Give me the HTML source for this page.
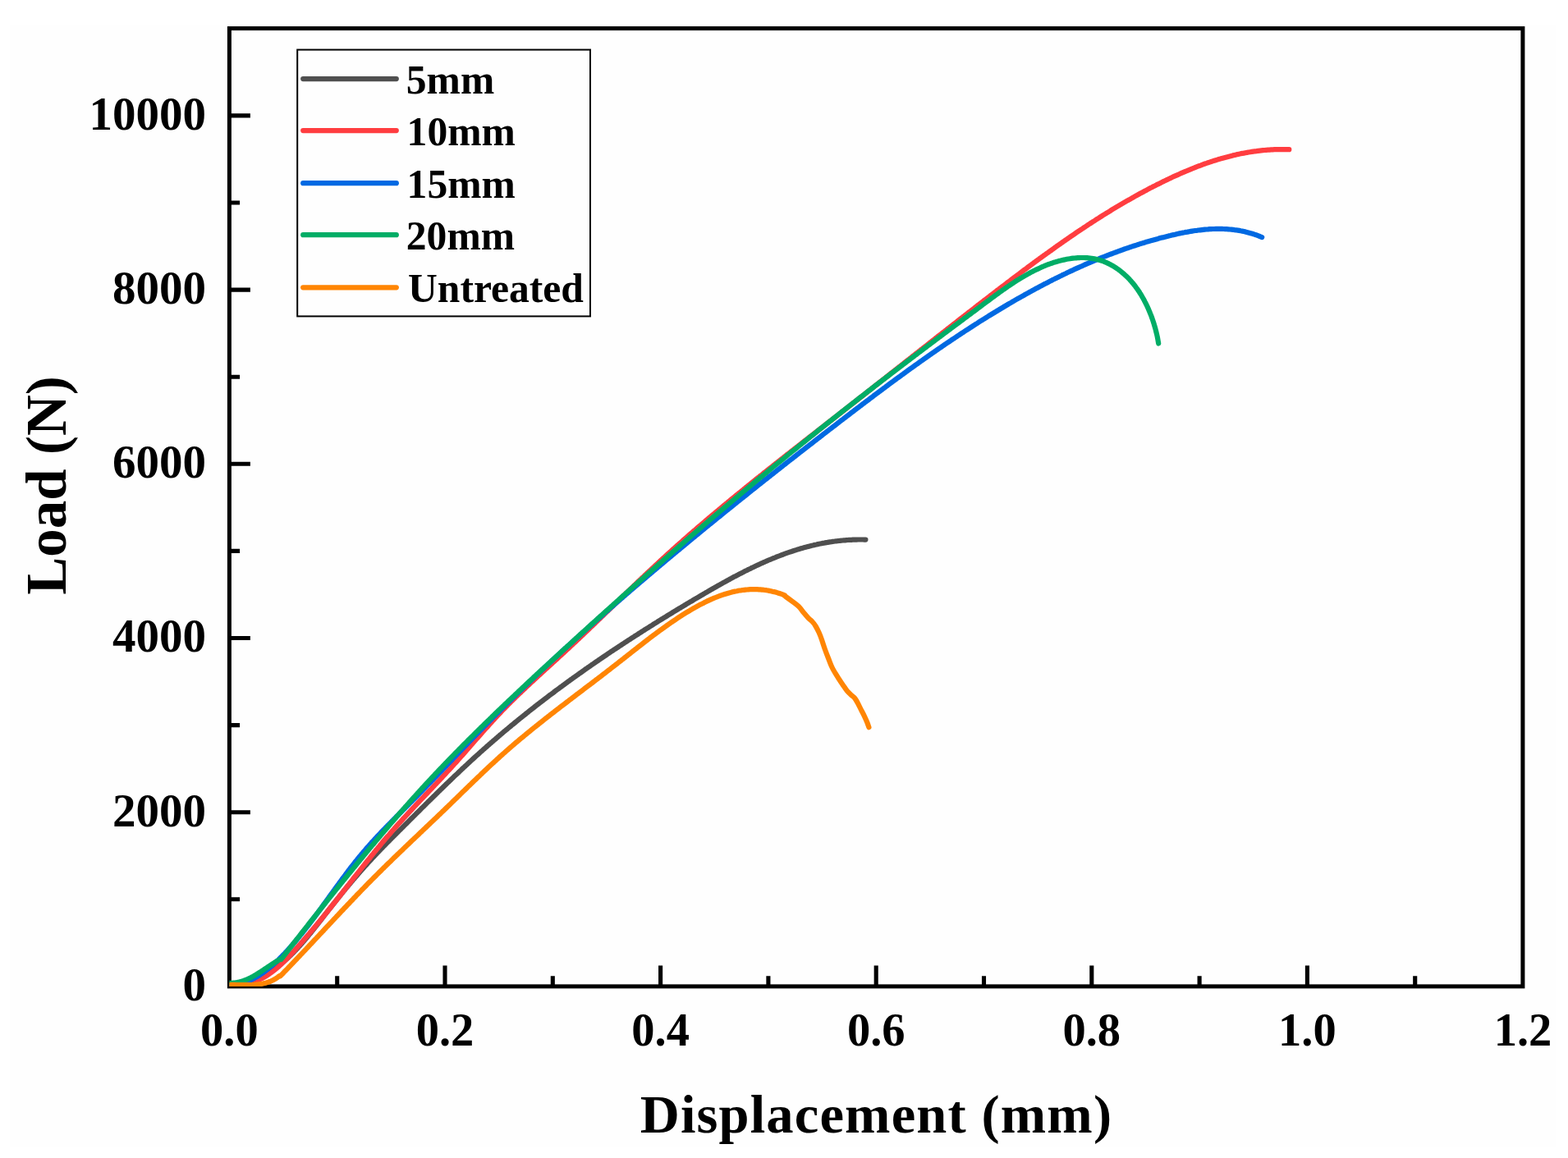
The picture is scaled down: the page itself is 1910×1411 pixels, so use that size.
<!DOCTYPE html>
<html><head><meta charset="utf-8"><title>Load vs Displacement</title>
<style>
html,body{margin:0;padding:0;background:#ffffff;}
body{width:1910px;height:1411px;overflow:hidden;}
svg{display:block;}
text{font-family:"Liberation Serif","Times New Roman",serif;font-weight:bold;fill:#000;}
</style></head><body>
<svg width="1910" height="1411" viewBox="0 0 1910 1411">
<rect x="0" y="0" width="1910" height="1411" fill="#ffffff"/>
<rect x="12" y="30" width="1883" height="1368" fill="#fefefe"/>
<defs><clipPath id="plotclip"><rect x="279.4" y="34.6" width="1575.5" height="1167.3"/></clipPath></defs>

<rect x="279.4" y="34.6" width="1575.5" height="1167.3" fill="none" stroke="#000" stroke-width="5"/>
<g clip-path="url(#plotclip)" fill="none" stroke-width="6.2" stroke-linecap="round" stroke-linejoin="round">
<path d="M279.0,1201.8 L280.7,1201.7 L282.3,1201.5 L283.9,1201.3 L285.5,1201.0 L287.1,1200.7 L288.7,1200.5 L290.3,1200.2 L291.8,1199.8 L293.3,1199.5 L294.9,1199.1 L296.4,1198.7 L297.9,1198.3 L299.4,1197.9 L300.8,1197.4 L302.3,1197.0 L303.8,1196.5 L305.2,1196.0 L306.6,1195.5 L308.1,1194.9 L309.5,1194.4 L310.9,1193.8 L312.2,1193.2 L313.6,1192.6 L315.0,1192.0 L316.3,1191.3 L317.7,1190.7 L319.0,1190.0 L320.3,1189.3 L321.6,1188.6 L322.9,1187.8 L324.2,1187.1 L325.5,1186.3 L326.8,1185.6 L328.0,1184.8 L329.3,1184.0 L330.5,1183.2 L331.7,1182.3 L333.0,1181.5 L334.2,1180.7 L335.4,1179.8 L336.6,1178.9 L337.8,1178.0 L339.0,1177.1 L340.1,1176.2 L341.3,1175.2 L342.5,1174.3 L343.6,1173.3 L344.8,1172.4 L345.9,1171.4 L347.0,1170.4 L348.1,1169.4 L349.3,1168.4 L350.4,1167.4 L351.5,1166.4 L352.6,1165.3 L353.7,1164.3 L354.7,1163.2 L355.8,1162.1 L356.9,1161.1 L358.0,1160.0 L359.0,1158.9 L360.1,1157.8 L361.1,1156.7 L362.2,1155.6 L363.2,1154.5 L364.2,1153.3 L365.3,1152.2 L366.3,1151.0 L367.3,1149.9 L368.3,1148.7 L369.3,1147.6 L370.3,1146.4 L371.3,1145.2 L372.3,1144.1 L373.3,1142.9 L374.3,1141.7 L375.3,1140.5 L376.3,1139.3 L377.3,1138.1 L378.3,1136.9 L379.3,1135.7 L380.2,1134.5 L381.2,1133.3 L382.2,1132.1 L383.1,1130.9 L384.1,1129.6 L385.1,1128.4 L386.0,1127.2 L387.0,1126.0 L387.9,1124.8 L388.9,1123.5 L389.9,1122.3 L390.8,1121.1 L391.8,1119.9 L392.7,1118.6 L393.7,1117.4 L394.6,1116.2 L395.6,1114.9 L396.5,1113.7 L397.5,1112.5 L398.4,1111.3 L399.4,1110.1 L400.3,1108.8 L401.3,1107.6 L402.2,1106.4 L403.2,1105.2 L404.2,1104.0 L405.1,1102.8 L406.1,1101.6 L407.0,1100.4 L408.0,1099.2 L408.9,1098.0 L409.9,1096.8 L410.8,1095.6 L411.8,1094.4 L412.8,1093.2 L413.7,1092.0 L414.7,1090.8 L415.6,1089.6 L416.6,1088.4 L417.6,1087.2 L418.5,1086.0 L419.5,1084.9 L420.5,1083.7 L421.4,1082.5 L422.4,1081.3 L423.4,1080.2 L424.4,1079.0 L425.3,1077.8 L426.3,1076.7 L427.3,1075.5 L428.3,1074.3 L429.2,1073.2 L430.2,1072.0 L431.2,1070.9 L432.2,1069.7 L433.2,1068.6 L434.2,1067.4 L435.2,1066.3 L436.2,1065.1 L437.1,1064.0 L438.1,1062.8 L439.1,1061.7 L440.1,1060.6 L441.1,1059.4 L442.1,1058.3 L443.1,1057.2 L444.1,1056.0 L445.2,1054.9 L446.2,1053.8 L447.2,1052.7 L448.2,1051.5 L449.2,1050.4 L450.2,1049.3 L451.3,1048.2 L452.3,1047.1 L453.3,1046.0 L454.3,1044.9 L455.4,1043.8 L456.4,1042.7 L457.4,1041.6 L458.5,1040.5 L459.5,1039.4 L460.6,1038.3 L461.6,1037.2 L462.7,1036.1 L463.7,1035.0 L464.8,1033.9 L465.8,1032.8 L466.9,1031.7 L467.9,1030.6 L469.0,1029.6 L470.1,1028.5 L471.1,1027.4 L472.2,1026.3 L473.3,1025.2 L474.3,1024.2 L475.4,1023.1 L476.5,1022.0 L477.5,1020.9 L478.6,1019.9 L479.7,1018.8 L480.8,1017.7 L481.8,1016.6 L482.9,1015.6 L484.0,1014.5 L485.1,1013.4 L486.1,1012.3 L487.2,1011.3 L488.3,1010.2 L489.4,1009.1 L490.5,1008.0 L491.5,1007.0 L492.6,1005.9 L493.7,1004.8 L494.8,1003.7 L495.8,1002.7 L496.9,1001.6 L498.0,1000.5 L499.1,999.4 L500.2,998.3 L501.2,997.3 L502.3,996.2 L503.4,995.1 L504.5,994.0 L505.6,993.0 L506.6,991.9 L507.7,990.8 L508.8,989.7 L509.9,988.6 L511.0,987.6 L512.1,986.5 L513.1,985.4 L514.2,984.3 L515.3,983.3 L516.4,982.2 L517.5,981.1 L518.6,980.0 L519.7,978.9 L520.7,977.9 L521.8,976.8 L522.9,975.7 L524.0,974.6 L525.1,973.6 L526.2,972.5 L527.3,971.4 L528.4,970.4 L529.5,969.3 L530.6,968.2 L531.6,967.1 L532.7,966.1 L533.8,965.0 L534.9,963.9 L536.0,962.9 L537.1,961.8 L538.2,960.7 L539.3,959.6 L540.4,958.6 L541.5,957.5 L542.6,956.4 L543.7,955.4 L544.8,954.3 L545.9,953.3 L547.0,952.2 L548.1,951.1 L549.2,950.1 L550.3,949.0 L551.4,948.0 L552.5,946.9 L553.6,945.8 L554.7,944.8 L555.9,943.7 L557.0,942.7 L558.1,941.6 L559.2,940.6 L560.3,939.5 L561.4,938.5 L562.5,937.4 L563.6,936.4 L564.8,935.3 L565.9,934.3 L567.0,933.2 L568.1,932.2 L569.2,931.2 L570.3,930.1 L571.5,929.1 L572.6,928.0 L573.7,927.0 L574.8,926.0 L576.0,924.9 L577.1,923.9 L578.2,922.9 L579.4,921.8 L580.5,920.8 L581.6,919.8 L582.8,918.8 L583.9,917.7 L585.0,916.7 L586.2,915.7 L587.3,914.7 L588.4,913.7 L589.6,912.7 L590.7,911.6 L591.9,910.6 L593.0,909.6 L594.1,908.6 L595.3,907.6 L596.4,906.6 L597.6,905.6 L598.7,904.6 L599.9,903.6 L601.0,902.6 L602.2,901.6 L603.4,900.6 L604.5,899.6 L605.7,898.6 L606.8,897.6 L608.0,896.6 L609.1,895.6 L610.3,894.7 L611.5,893.7 L612.6,892.7 L613.8,891.7 L615.0,890.7 L616.1,889.7 L617.3,888.8 L618.5,887.8 L619.6,886.8 L620.8,885.8 L622.0,884.9 L623.1,883.9 L624.3,882.9 L625.5,882.0 L626.7,881.0 L627.9,880.0 L629.0,879.1 L630.2,878.1 L631.4,877.1 L632.6,876.2 L633.8,875.2 L634.9,874.3 L636.1,873.3 L637.3,872.4 L638.5,871.4 L639.7,870.5 L640.9,869.5 L642.1,868.6 L643.3,867.6 L644.4,866.7 L645.6,865.7 L646.8,864.8 L648.0,863.8 L649.2,862.9 L650.4,862.0 L651.6,861.0 L652.8,860.1 L654.0,859.1 L655.2,858.2 L656.4,857.3 L657.6,856.3 L658.8,855.4 L660.0,854.5 L661.3,853.6 L662.5,852.6 L663.7,851.7 L664.9,850.8 L666.1,849.9 L667.3,848.9 L668.5,848.0 L669.7,847.1 L670.9,846.2 L672.2,845.3 L673.4,844.4 L674.6,843.5 L675.8,842.5 L677.0,841.6 L678.2,840.7 L679.5,839.8 L680.7,838.9 L681.9,838.0 L683.1,837.1 L684.4,836.2 L685.6,835.3 L686.8,834.4 L688.0,833.5 L689.3,832.6 L690.5,831.7 L691.7,830.8 L693.0,829.9 L694.2,829.0 L695.4,828.1 L696.7,827.2 L697.9,826.3 L699.1,825.4 L700.4,824.6 L701.6,823.7 L702.9,822.8 L704.1,821.9 L705.3,821.0 L706.6,820.1 L707.8,819.3 L709.1,818.4 L710.3,817.5 L711.6,816.6 L712.8,815.7 L714.0,814.9 L715.3,814.0 L716.5,813.1 L717.8,812.3 L719.0,811.4 L720.3,810.5 L721.5,809.6 L722.8,808.8 L724.1,807.9 L725.3,807.0 L726.6,806.2 L727.8,805.3 L729.1,804.5 L730.3,803.6 L731.6,802.7 L732.9,801.9 L734.1,801.0 L735.4,800.2 L736.6,799.3 L737.9,798.5 L739.2,797.6 L740.4,796.7 L741.7,795.9 L743.0,795.0 L744.2,794.2 L745.5,793.3 L746.8,792.5 L748.0,791.7 L749.3,790.8 L750.6,790.0 L751.9,789.1 L753.1,788.3 L754.4,787.4 L755.7,786.6 L756.9,785.8 L758.2,784.9 L759.5,784.1 L760.8,783.2 L762.1,782.4 L763.3,781.6 L764.6,780.7 L765.9,779.9 L767.2,779.1 L768.5,778.2 L769.7,777.4 L771.0,776.6 L772.3,775.8 L773.6,774.9 L774.9,774.1 L776.2,773.3 L777.5,772.5 L778.7,771.6 L780.0,770.8 L781.3,770.0 L782.6,769.2 L783.9,768.3 L785.2,767.5 L786.5,766.7 L787.8,765.9 L789.1,765.1 L790.4,764.3 L791.7,763.4 L793.0,762.6 L794.3,761.8 L795.5,761.0 L796.8,760.2 L798.1,759.4 L799.4,758.6 L800.7,757.8 L802.0,756.9 L803.3,756.1 L804.6,755.3 L805.9,754.5 L807.3,753.7 L808.6,752.9 L809.9,752.1 L811.2,751.3 L812.5,750.5 L813.8,749.7 L815.1,748.9 L816.4,748.1 L817.7,747.3 L819.0,746.5 L820.3,745.7 L821.6,744.9 L822.9,744.1 L824.2,743.3 L825.6,742.5 L826.9,741.7 L828.2,740.9 L829.5,740.2 L830.8,739.4 L832.1,738.6 L833.4,737.8 L834.8,737.0 L836.1,736.2 L837.4,735.4 L838.7,734.6 L840.0,733.8 L841.4,733.1 L842.7,732.3 L844.0,731.5 L845.3,730.7 L846.6,729.9 L848.0,729.1 L849.3,728.4 L850.6,727.6 L851.9,726.8 L853.3,726.0 L854.6,725.2 L855.9,724.5 L857.2,723.7 L858.6,722.9 L859.9,722.1 L861.2,721.4 L862.5,720.6 L863.9,719.8 L865.2,719.0 L866.5,718.3 L867.9,717.5 L869.2,716.7 L870.5,716.0 L871.9,715.2 L873.2,714.5 L874.5,713.7 L875.9,712.9 L877.2,712.2 L878.6,711.4 L879.9,710.7 L881.2,709.9 L882.6,709.2 L883.9,708.5 L885.3,707.7 L886.6,707.0 L888.0,706.3 L889.3,705.5 L890.7,704.8 L892.0,704.1 L893.4,703.3 L894.7,702.6 L896.1,701.9 L897.4,701.2 L898.8,700.5 L900.1,699.8 L901.5,699.1 L902.8,698.4 L904.2,697.7 L905.6,697.0 L906.9,696.3 L908.3,695.6 L909.7,694.9 L911.0,694.2 L912.4,693.6 L913.8,692.9 L915.1,692.2 L916.5,691.6 L917.9,690.9 L919.3,690.2 L920.6,689.6 L922.0,688.9 L923.4,688.3 L924.8,687.7 L926.2,687.0 L927.5,686.4 L928.9,685.8 L930.3,685.2 L931.7,684.6 L933.1,683.9 L934.5,683.3 L935.9,682.7 L937.3,682.2 L938.7,681.6 L940.1,681.0 L941.5,680.4 L942.9,679.8 L944.3,679.3 L945.7,678.7 L947.1,678.1 L948.5,677.6 L949.9,677.1 L951.3,676.5 L952.8,676.0 L954.2,675.5 L955.6,674.9 L957.0,674.4 L958.4,673.9 L959.9,673.4 L961.3,672.9 L962.7,672.4 L964.1,672.0 L965.6,671.5 L967.0,671.0 L968.5,670.6 L969.9,670.1 L971.3,669.6 L972.8,669.2 L974.2,668.8 L975.7,668.3 L977.1,667.9 L978.6,667.5 L980.0,667.1 L981.5,666.7 L983.0,666.3 L984.4,665.9 L985.9,665.6 L987.3,665.2 L988.8,664.8 L990.3,664.5 L991.8,664.1 L993.2,663.8 L994.7,663.5 L996.2,663.1 L997.7,662.8 L999.2,662.5 L1000.7,662.2 L1002.1,661.9 L1003.6,661.7 L1005.1,661.4 L1006.6,661.1 L1008.1,660.9 L1009.6,660.6 L1011.1,660.4 L1012.6,660.2 L1014.2,659.9 L1015.7,659.7 L1017.2,659.5 L1018.7,659.3 L1020.2,659.2 L1021.8,659.0 L1023.3,658.8 L1024.8,658.7 L1026.3,658.5 L1027.9,658.4 L1029.4,658.3 L1031.0,658.1 L1032.5,658.0 L1034.1,657.9 L1035.6,657.9 L1037.2,657.8 L1038.7,657.7 L1040.3,657.7 L1041.8,657.6 L1043.4,657.6 L1045.0,657.5 L1046.5,657.5 L1048.1,657.5 L1049.7,657.5 L1051.3,657.5 L1052.8,657.6 L1054.4,657.6" stroke="#4f4f4f"/>
<path d="M279.0,1201.5 L281.1,1201.6 L283.2,1201.6 L285.2,1201.5 L287.3,1201.4 L289.3,1201.2 L291.3,1201.0 L293.3,1200.7 L295.3,1200.4 L297.3,1200.0 L299.2,1199.6 L301.1,1199.1 L303.1,1198.6 L304.9,1198.0 L306.8,1197.4 L308.7,1196.7 L310.5,1196.0 L312.3,1195.3 L314.1,1194.5 L315.9,1193.7 L317.6,1192.8 L319.4,1191.9 L321.1,1191.0 L322.8,1190.0 L324.4,1189.0 L326.1,1188.0 L327.7,1186.9 L329.3,1185.8 L330.9,1184.7 L332.4,1183.5 L334.0,1182.3 L335.5,1181.1 L337.0,1179.9 L338.4,1178.6 L339.9,1177.3 L341.4,1176.0 L342.8,1174.7 L344.2,1173.3 L345.6,1172.0 L347.0,1170.6 L348.4,1169.2 L349.8,1167.8 L351.1,1166.4 L352.5,1164.9 L353.9,1163.5 L355.2,1162.0 L356.5,1160.6 L357.9,1159.1 L359.2,1157.7 L360.5,1156.2 L361.8,1154.7 L363.1,1153.3 L364.4,1151.8 L365.8,1150.3 L367.1,1148.8 L368.3,1147.4 L369.6,1145.9 L370.9,1144.4 L372.2,1142.9 L373.5,1141.4 L374.8,1139.9 L376.1,1138.4 L377.3,1136.9 L378.6,1135.4 L379.9,1133.9 L381.1,1132.4 L382.4,1130.9 L383.7,1129.4 L384.9,1127.8 L386.2,1126.3 L387.4,1124.8 L388.7,1123.3 L389.9,1121.7 L391.1,1120.2 L392.4,1118.7 L393.6,1117.2 L394.9,1115.6 L396.1,1114.1 L397.3,1112.6 L398.6,1111.0 L399.8,1109.5 L401.0,1108.0 L402.2,1106.4 L403.5,1104.9 L404.7,1103.3 L405.9,1101.8 L407.1,1100.2 L408.4,1098.7 L409.6,1097.2 L410.8,1095.6 L412.0,1094.1 L413.2,1092.5 L414.4,1091.0 L415.7,1089.4 L416.9,1087.9 L418.1,1086.3 L419.3,1084.8 L420.5,1083.2 L421.7,1081.7 L422.9,1080.1 L424.2,1078.6 L425.4,1077.0 L426.6,1075.5 L427.8,1073.9 L429.0,1072.4 L430.2,1070.8 L431.4,1069.3 L432.6,1067.7 L433.9,1066.2 L435.1,1064.6 L436.3,1063.1 L437.5,1061.6 L438.7,1060.0 L440.0,1058.5 L441.2,1056.9 L442.4,1055.4 L443.6,1053.9 L444.8,1052.3 L446.1,1050.8 L447.3,1049.2 L448.5,1047.7 L449.8,1046.2 L451.0,1044.7 L452.2,1043.1 L453.5,1041.6 L454.7,1040.1 L455.9,1038.5 L457.2,1037.0 L458.4,1035.5 L459.7,1034.0 L460.9,1032.5 L462.2,1031.0 L463.4,1029.5 L464.7,1027.9 L465.9,1026.4 L467.2,1024.9 L468.5,1023.4 L469.7,1021.9 L471.0,1020.4 L472.3,1018.9 L473.6,1017.5 L474.9,1016.0 L476.1,1014.5 L477.4,1013.0 L478.7,1011.5 L480.0,1010.1 L481.3,1008.6 L482.6,1007.1 L483.9,1005.6 L485.2,1004.2 L486.6,1002.7 L487.9,1001.3 L489.2,999.8 L490.5,998.4 L491.8,996.9 L493.2,995.5 L494.5,994.0 L495.8,992.6 L497.2,991.1 L498.5,989.7 L499.8,988.2 L501.2,986.8 L502.5,985.4 L503.9,983.9 L505.2,982.5 L506.5,981.1 L507.9,979.6 L509.2,978.2 L510.6,976.8 L511.9,975.3 L513.3,973.9 L514.6,972.5 L516.0,971.1 L517.4,969.6 L518.7,968.2 L520.1,966.8 L521.4,965.4 L522.8,963.9 L524.1,962.5 L525.5,961.1 L526.8,959.6 L528.2,958.2 L529.5,956.8 L530.9,955.4 L532.2,953.9 L533.6,952.5 L534.9,951.1 L536.3,949.6 L537.6,948.2 L539.0,946.8 L540.3,945.3 L541.7,943.9 L543.0,942.4 L544.3,941.0 L545.7,939.5 L547.0,938.1 L548.3,936.6 L549.7,935.2 L551.0,933.7 L552.3,932.3 L553.6,930.8 L555.0,929.4 L556.3,927.9 L557.6,926.4 L558.9,925.0 L560.2,923.5 L561.5,922.0 L562.8,920.6 L564.1,919.1 L565.4,917.6 L566.7,916.1 L568.0,914.6 L569.3,913.2 L570.6,911.7 L571.9,910.2 L573.2,908.7 L574.5,907.2 L575.8,905.8 L577.1,904.3 L578.4,902.8 L579.7,901.3 L581.0,899.8 L582.3,898.4 L583.6,896.9 L584.9,895.4 L586.2,893.9 L587.5,892.4 L588.8,891.0 L590.1,889.5 L591.4,888.0 L592.8,886.6 L594.1,885.1 L595.4,883.6 L596.7,882.2 L598.0,880.7 L599.4,879.3 L600.7,877.8 L602.0,876.4 L603.3,874.9 L604.7,873.5 L606.0,872.0 L607.4,870.6 L608.7,869.2 L610.1,867.8 L611.4,866.3 L612.8,864.9 L614.2,863.5 L615.6,862.1 L616.9,860.7 L618.3,859.3 L619.7,857.9 L621.1,856.5 L622.5,855.1 L623.9,853.8 L625.3,852.4 L626.7,851.0 L628.1,849.6 L629.5,848.3 L630.9,846.9 L632.3,845.5 L633.8,844.2 L635.2,842.8 L636.6,841.5 L638.0,840.1 L639.5,838.8 L640.9,837.4 L642.3,836.1 L643.8,834.7 L645.2,833.4 L646.6,832.0 L648.1,830.7 L649.5,829.4 L651.0,828.0 L652.4,826.7 L653.9,825.4 L655.3,824.0 L656.8,822.7 L658.2,821.4 L659.7,820.0 L661.1,818.7 L662.6,817.4 L664.0,816.0 L665.5,814.7 L666.9,813.4 L668.4,812.1 L669.9,810.7 L671.3,809.4 L672.8,808.1 L674.2,806.8 L675.7,805.4 L677.1,804.1 L678.6,802.8 L680.0,801.5 L681.5,800.1 L682.9,798.8 L684.4,797.5 L685.8,796.1 L687.3,794.8 L688.7,793.5 L690.2,792.1 L691.6,790.8 L693.1,789.5 L694.5,788.1 L695.9,786.8 L697.4,785.4 L698.8,784.1 L700.3,782.7 L701.7,781.4 L703.1,780.0 L704.6,778.7 L706.0,777.3 L707.4,776.0 L708.8,774.6 L710.3,773.3 L711.7,771.9 L713.1,770.6 L714.5,769.2 L716.0,767.9 L717.4,766.5 L718.8,765.1 L720.2,763.8 L721.7,762.4 L723.1,761.1 L724.5,759.7 L725.9,758.3 L727.3,757.0 L728.7,755.6 L730.2,754.2 L731.6,752.9 L733.0,751.5 L734.4,750.2 L735.8,748.8 L737.2,747.4 L738.6,746.1 L740.1,744.7 L741.5,743.3 L742.9,742.0 L744.3,740.6 L745.7,739.2 L747.1,737.9 L748.5,736.5 L749.9,735.1 L751.4,733.8 L752.8,732.4 L754.2,731.0 L755.6,729.7 L757.0,728.3 L758.4,726.9 L759.8,725.6 L761.3,724.2 L762.7,722.8 L764.1,721.5 L765.5,720.1 L766.9,718.8 L768.3,717.4 L769.8,716.0 L771.2,714.7 L772.6,713.3 L774.0,712.0 L775.4,710.6 L776.8,709.2 L778.3,707.9 L779.7,706.5 L781.1,705.2 L782.5,703.8 L784.0,702.5 L785.4,701.1 L786.8,699.8 L788.2,698.4 L789.7,697.1 L791.1,695.7 L792.5,694.4 L794.0,693.0 L795.4,691.7 L796.8,690.4 L798.3,689.0 L799.7,687.7 L801.1,686.4 L802.6,685.0 L804.0,683.7 L805.5,682.4 L806.9,681.0 L808.4,679.7 L809.8,678.4 L811.3,677.0 L812.7,675.7 L814.2,674.4 L815.6,673.1 L817.1,671.8 L818.5,670.5 L820.0,669.1 L821.5,667.8 L822.9,666.5 L824.4,665.2 L825.9,663.9 L827.3,662.6 L828.8,661.3 L830.3,660.0 L831.7,658.7 L833.2,657.4 L834.7,656.1 L836.2,654.8 L837.6,653.5 L839.1,652.2 L840.6,650.9 L842.1,649.6 L843.6,648.3 L845.0,647.0 L846.5,645.8 L848.0,644.5 L849.5,643.2 L851.0,641.9 L852.5,640.6 L854.0,639.4 L855.5,638.1 L857.0,636.8 L858.5,635.5 L860.0,634.2 L861.5,633.0 L863.0,631.7 L864.5,630.4 L866.0,629.2 L867.5,627.9 L869.0,626.6 L870.5,625.4 L872.0,624.1 L873.5,622.8 L875.0,621.6 L876.5,620.3 L878.0,619.1 L879.5,617.8 L881.0,616.5 L882.6,615.3 L884.1,614.0 L885.6,612.8 L887.1,611.5 L888.6,610.3 L890.1,609.0 L891.7,607.8 L893.2,606.5 L894.7,605.3 L896.2,604.0 L897.8,602.8 L899.3,601.5 L900.8,600.3 L902.3,599.1 L903.9,597.8 L905.4,596.6 L906.9,595.3 L908.4,594.1 L910.0,592.9 L911.5,591.6 L913.0,590.4 L914.6,589.2 L916.1,587.9 L917.6,586.7 L919.2,585.5 L920.7,584.2 L922.2,583.0 L923.8,581.8 L925.3,580.5 L926.9,579.3 L928.4,578.1 L929.9,576.8 L931.5,575.6 L933.0,574.4 L934.5,573.2 L936.1,571.9 L937.6,570.7 L939.2,569.5 L940.7,568.3 L942.3,567.0 L943.8,565.8 L945.4,564.6 L946.9,563.4 L948.4,562.2 L950.0,560.9 L951.5,559.7 L953.1,558.5 L954.6,557.3 L956.2,556.1 L957.7,554.8 L959.3,553.6 L960.8,552.4 L962.4,551.2 L963.9,550.0 L965.5,548.8 L967.0,547.5 L968.6,546.3 L970.1,545.1 L971.7,543.9 L973.2,542.7 L974.8,541.5 L976.3,540.3 L977.9,539.1 L979.4,537.8 L981.0,536.6 L982.5,535.4 L984.1,534.2 L985.6,533.0 L987.2,531.8 L988.7,530.6 L990.3,529.4 L991.9,528.1 L993.4,526.9 L995.0,525.7 L996.5,524.5 L998.1,523.3 L999.6,522.1 L1001.2,520.9 L1002.7,519.7 L1004.3,518.5 L1005.8,517.2 L1007.4,516.0 L1008.9,514.8 L1010.5,513.6 L1012.0,512.4 L1013.6,511.2 L1015.2,510.0 L1016.7,508.8 L1018.3,507.6 L1019.8,506.4 L1021.4,505.1 L1022.9,503.9 L1024.5,502.7 L1026.0,501.5 L1027.6,500.3 L1029.1,499.1 L1030.7,497.9 L1032.2,496.7 L1033.8,495.4 L1035.3,494.2 L1036.9,493.0 L1038.4,491.8 L1040.0,490.6 L1041.5,489.4 L1043.1,488.2 L1044.6,487.0 L1046.2,485.7 L1047.7,484.5 L1049.3,483.3 L1050.8,482.1 L1052.4,480.9 L1053.9,479.7 L1055.5,478.5 L1057.0,477.2 L1058.6,476.0 L1060.1,474.8 L1061.6,473.6 L1063.2,472.4 L1064.7,471.2 L1066.3,469.9 L1067.8,468.7 L1069.4,467.5 L1070.9,466.3 L1072.5,465.1 L1074.0,463.9 L1075.6,462.6 L1077.1,461.4 L1078.7,460.2 L1080.2,459.0 L1081.7,457.8 L1083.3,456.6 L1084.8,455.3 L1086.4,454.1 L1087.9,452.9 L1089.5,451.7 L1091.0,450.5 L1092.6,449.3 L1094.1,448.0 L1095.7,446.8 L1097.2,445.6 L1098.7,444.4 L1100.3,443.2 L1101.8,442.0 L1103.4,440.7 L1104.9,439.5 L1106.5,438.3 L1108.0,437.1 L1109.6,435.9 L1111.1,434.7 L1112.6,433.4 L1114.2,432.2 L1115.7,431.0 L1117.3,429.8 L1118.8,428.6 L1120.4,427.4 L1121.9,426.1 L1123.5,424.9 L1125.0,423.7 L1126.6,422.5 L1128.1,421.3 L1129.6,420.1 L1131.2,418.8 L1132.7,417.6 L1134.3,416.4 L1135.8,415.2 L1137.4,414.0 L1138.9,412.8 L1140.5,411.6 L1142.0,410.3 L1143.6,409.1 L1145.1,407.9 L1146.7,406.7 L1148.2,405.5 L1149.8,404.3 L1151.3,403.1 L1152.9,401.9 L1154.4,400.6 L1156.0,399.4 L1157.5,398.2 L1159.1,397.0 L1160.6,395.8 L1162.2,394.6 L1163.7,393.4 L1165.3,392.2 L1166.8,391.0 L1168.4,389.7 L1169.9,388.5 L1171.5,387.3 L1173.0,386.1 L1174.6,384.9 L1176.1,383.7 L1177.7,382.5 L1179.2,381.3 L1180.8,380.1 L1182.3,378.9 L1183.9,377.7 L1185.5,376.5 L1187.0,375.3 L1188.6,374.1 L1190.1,372.8 L1191.7,371.6 L1193.2,370.4 L1194.8,369.2 L1196.4,368.0 L1197.9,366.8 L1199.5,365.6 L1201.0,364.4 L1202.6,363.2 L1204.2,362.0 L1205.7,360.8 L1207.3,359.6 L1208.8,358.4 L1210.4,357.2 L1212.0,356.0 L1213.5,354.8 L1215.1,353.6 L1216.7,352.4 L1218.2,351.2 L1219.8,350.0 L1221.3,348.8 L1222.9,347.7 L1224.5,346.5 L1226.0,345.3 L1227.6,344.1 L1229.2,342.9 L1230.8,341.7 L1232.3,340.5 L1233.9,339.3 L1235.5,338.1 L1237.0,336.9 L1238.6,335.7 L1240.2,334.6 L1241.8,333.4 L1243.3,332.2 L1244.9,331.0 L1246.5,329.8 L1248.1,328.6 L1249.7,327.5 L1251.2,326.3 L1252.8,325.1 L1254.4,323.9 L1256.0,322.8 L1257.6,321.6 L1259.1,320.4 L1260.7,319.3 L1262.3,318.1 L1263.9,316.9 L1265.5,315.8 L1267.1,314.6 L1268.7,313.4 L1270.3,312.3 L1271.9,311.1 L1273.5,310.0 L1275.1,308.8 L1276.7,307.7 L1278.3,306.5 L1279.9,305.4 L1281.5,304.2 L1283.1,303.1 L1284.7,301.9 L1286.3,300.8 L1287.9,299.6 L1289.5,298.5 L1291.1,297.4 L1292.7,296.2 L1294.3,295.1 L1295.9,294.0 L1297.5,292.9 L1299.2,291.7 L1300.8,290.6 L1302.4,289.5 L1304.0,288.4 L1305.6,287.3 L1307.3,286.2 L1308.9,285.1 L1310.5,283.9 L1312.1,282.8 L1313.8,281.7 L1315.4,280.6 L1317.0,279.6 L1318.7,278.5 L1320.3,277.4 L1322.0,276.3 L1323.6,275.2 L1325.2,274.1 L1326.9,273.0 L1328.5,272.0 L1330.2,270.9 L1331.8,269.8 L1333.5,268.8 L1335.1,267.7 L1336.8,266.6 L1338.5,265.6 L1340.1,264.5 L1341.8,263.5 L1343.4,262.4 L1345.1,261.4 L1346.8,260.4 L1348.4,259.3 L1350.1,258.3 L1351.8,257.3 L1353.5,256.2 L1355.1,255.2 L1356.8,254.2 L1358.5,253.2 L1360.2,252.2 L1361.9,251.2 L1363.6,250.2 L1365.3,249.2 L1367.0,248.2 L1368.7,247.2 L1370.4,246.2 L1372.1,245.2 L1373.8,244.2 L1375.5,243.3 L1377.2,242.3 L1378.9,241.3 L1380.6,240.4 L1382.3,239.4 L1384.0,238.4 L1385.7,237.5 L1387.5,236.5 L1389.2,235.6 L1390.9,234.7 L1392.7,233.7 L1394.4,232.8 L1396.1,231.9 L1397.9,230.9 L1399.6,230.0 L1401.3,229.1 L1403.1,228.2 L1404.8,227.3 L1406.6,226.4 L1408.4,225.5 L1410.1,224.6 L1411.9,223.8 L1413.6,222.9 L1415.4,222.0 L1417.2,221.1 L1418.9,220.3 L1420.7,219.4 L1422.5,218.6 L1424.3,217.7 L1426.0,216.9 L1427.8,216.0 L1429.6,215.2 L1431.4,214.4 L1433.2,213.6 L1435.0,212.8 L1436.8,212.0 L1438.6,211.2 L1440.4,210.4 L1442.2,209.6 L1444.0,208.8 L1445.8,208.1 L1447.7,207.3 L1449.5,206.6 L1451.3,205.8 L1453.1,205.1 L1455.0,204.4 L1456.8,203.6 L1458.6,202.9 L1460.5,202.2 L1462.3,201.6 L1464.1,200.9 L1466.0,200.2 L1467.8,199.5 L1469.7,198.9 L1471.6,198.2 L1473.4,197.6 L1475.3,197.0 L1477.1,196.4 L1479.0,195.8 L1480.9,195.2 L1482.8,194.6 L1484.6,194.0 L1486.5,193.5 L1488.4,192.9 L1490.3,192.4 L1492.2,191.9 L1494.1,191.4 L1496.0,190.9 L1497.9,190.4 L1499.8,189.9 L1501.7,189.4 L1503.6,189.0 L1505.5,188.6 L1507.4,188.1 L1509.3,187.7 L1511.2,187.3 L1513.2,186.9 L1515.1,186.6 L1517.0,186.2 L1518.9,185.9 L1520.9,185.5 L1522.8,185.2 L1524.8,184.9 L1526.7,184.6 L1528.7,184.3 L1530.6,184.1 L1532.6,183.8 L1534.5,183.6 L1536.5,183.4 L1538.4,183.2 L1540.4,183.0 L1542.4,182.8 L1544.4,182.7 L1546.3,182.6 L1548.3,182.4 L1550.3,182.3 L1552.3,182.2 L1554.3,182.2 L1556.3,182.1 L1558.3,182.1 L1560.3,182.1 L1562.3,182.1 L1564.3,182.1 L1566.3,182.1 L1568.3,182.2 L1570.3,182.2" stroke="#ff3d40"/>
<path d="M279.7,1202.0 L281.7,1201.7 L283.7,1201.3 L285.7,1200.9 L287.6,1200.5 L289.5,1200.0 L291.4,1199.5 L293.3,1199.0 L295.1,1198.4 L296.9,1197.7 L298.7,1197.1 L300.5,1196.4 L302.3,1195.6 L304.0,1194.8 L305.7,1194.0 L307.4,1193.2 L309.0,1192.3 L310.7,1191.4 L312.3,1190.5 L313.9,1189.5 L315.5,1188.5 L317.1,1187.5 L318.6,1186.5 L320.2,1185.4 L321.7,1184.3 L323.2,1183.2 L324.7,1182.1 L326.2,1180.9 L327.6,1179.7 L329.1,1178.5 L330.5,1177.3 L331.9,1176.1 L333.3,1174.8 L334.7,1173.6 L336.1,1172.3 L337.5,1171.0 L338.9,1169.7 L340.2,1168.4 L341.6,1167.0 L342.9,1165.7 L344.2,1164.3 L345.6,1162.9 L346.9,1161.6 L348.2,1160.2 L349.5,1158.8 L350.8,1157.4 L352.0,1156.0 L353.3,1154.5 L354.6,1153.1 L355.8,1151.7 L357.1,1150.2 L358.4,1148.8 L359.6,1147.3 L360.8,1145.9 L362.1,1144.4 L363.3,1142.9 L364.5,1141.4 L365.7,1139.9 L366.9,1138.4 L368.2,1136.9 L369.4,1135.4 L370.6,1133.9 L371.7,1132.4 L372.9,1130.9 L374.1,1129.4 L375.3,1127.8 L376.5,1126.3 L377.7,1124.7 L378.8,1123.2 L380.0,1121.6 L381.2,1120.1 L382.3,1118.5 L383.5,1117.0 L384.6,1115.4 L385.8,1113.9 L387.0,1112.3 L388.1,1110.7 L389.3,1109.1 L390.4,1107.6 L391.6,1106.0 L392.7,1104.4 L393.8,1102.8 L395.0,1101.3 L396.1,1099.7 L397.3,1098.1 L398.4,1096.5 L399.6,1094.9 L400.7,1093.3 L401.8,1091.7 L403.0,1090.2 L404.1,1088.6 L405.3,1087.0 L406.4,1085.4 L407.6,1083.8 L408.7,1082.2 L409.9,1080.7 L411.0,1079.1 L412.2,1077.5 L413.3,1075.9 L414.5,1074.3 L415.6,1072.8 L416.8,1071.2 L417.9,1069.6 L419.1,1068.1 L420.3,1066.5 L421.4,1064.9 L422.6,1063.4 L423.8,1061.8 L425.0,1060.3 L426.2,1058.7 L427.3,1057.2 L428.5,1055.6 L429.7,1054.1 L430.9,1052.6 L432.1,1051.0 L433.3,1049.5 L434.6,1048.0 L435.8,1046.5 L437.0,1045.0 L438.2,1043.5 L439.5,1042.0 L440.7,1040.5 L442.0,1039.0 L443.2,1037.5 L444.5,1036.1 L445.7,1034.6 L447.0,1033.1 L448.3,1031.7 L449.6,1030.2 L450.8,1028.8 L452.1,1027.4 L453.4,1025.9 L454.7,1024.5 L456.0,1023.1 L457.3,1021.7 L458.6,1020.2 L460.0,1018.8 L461.3,1017.4 L462.6,1016.0 L463.9,1014.6 L465.2,1013.2 L466.6,1011.8 L467.9,1010.4 L469.3,1009.1 L470.6,1007.7 L471.9,1006.3 L473.3,1004.9 L474.6,1003.5 L476.0,1002.2 L477.3,1000.8 L478.7,999.4 L480.0,998.0 L481.4,996.7 L482.7,995.3 L484.1,993.9 L485.5,992.6 L486.8,991.2 L488.2,989.8 L489.5,988.5 L490.9,987.1 L492.3,985.8 L493.6,984.4 L495.0,983.0 L496.4,981.7 L497.7,980.3 L499.1,978.9 L500.4,977.6 L501.8,976.2 L503.1,974.8 L504.5,973.5 L505.9,972.1 L507.2,970.7 L508.6,969.4 L509.9,968.0 L511.3,966.6 L512.6,965.2 L514.0,963.8 L515.3,962.5 L516.6,961.1 L518.0,959.7 L519.3,958.3 L520.7,956.9 L522.0,955.5 L523.4,954.2 L524.7,952.8 L526.0,951.4 L527.4,950.0 L528.7,948.6 L530.0,947.2 L531.4,945.8 L532.7,944.4 L534.1,943.0 L535.4,941.6 L536.7,940.3 L538.1,938.9 L539.4,937.5 L540.7,936.1 L542.1,934.7 L543.4,933.3 L544.7,931.9 L546.1,930.5 L547.4,929.1 L548.7,927.7 L550.1,926.3 L551.4,924.9 L552.7,923.5 L554.1,922.1 L555.4,920.7 L556.7,919.3 L558.1,917.9 L559.4,916.5 L560.7,915.1 L562.1,913.7 L563.4,912.3 L564.8,911.0 L566.1,909.6 L567.4,908.2 L568.8,906.8 L570.1,905.4 L571.4,904.0 L572.8,902.6 L574.1,901.2 L575.5,899.8 L576.8,898.4 L578.2,897.1 L579.5,895.7 L580.9,894.3 L582.2,892.9 L583.6,891.5 L584.9,890.1 L586.3,888.7 L587.6,887.4 L589.0,886.0 L590.3,884.6 L591.7,883.2 L593.0,881.9 L594.4,880.5 L595.8,879.1 L597.1,877.7 L598.5,876.4 L599.8,875.0 L601.2,873.6 L602.6,872.3 L603.9,870.9 L605.3,869.5 L606.7,868.2 L608.1,866.8 L609.4,865.4 L610.8,864.1 L612.2,862.7 L613.6,861.4 L614.9,860.0 L616.3,858.6 L617.7,857.3 L619.1,855.9 L620.4,854.6 L621.8,853.2 L623.2,851.9 L624.6,850.5 L626.0,849.2 L627.4,847.8 L628.8,846.5 L630.1,845.1 L631.5,843.8 L632.9,842.4 L634.3,841.1 L635.7,839.7 L637.1,838.4 L638.5,837.1 L639.9,835.7 L641.3,834.4 L642.7,833.0 L644.1,831.7 L645.5,830.4 L646.9,829.0 L648.3,827.7 L649.7,826.4 L651.1,825.0 L652.5,823.7 L653.9,822.4 L655.3,821.0 L656.7,819.7 L658.1,818.4 L659.5,817.1 L661.0,815.7 L662.4,814.4 L663.8,813.1 L665.2,811.8 L666.6,810.4 L668.0,809.1 L669.4,807.8 L670.9,806.5 L672.3,805.2 L673.7,803.8 L675.1,802.5 L676.5,801.2 L678.0,799.9 L679.4,798.6 L680.8,797.3 L682.2,795.9 L683.7,794.6 L685.1,793.3 L686.5,792.0 L687.9,790.7 L689.4,789.4 L690.8,788.1 L692.2,786.8 L693.7,785.5 L695.1,784.2 L696.5,782.9 L698.0,781.6 L699.4,780.3 L700.8,779.0 L702.3,777.7 L703.7,776.4 L705.1,775.1 L706.6,773.8 L708.0,772.5 L709.5,771.2 L710.9,769.9 L712.3,768.6 L713.8,767.3 L715.2,766.0 L716.7,764.7 L718.1,763.4 L719.6,762.1 L721.0,760.8 L722.5,759.6 L723.9,758.3 L725.4,757.0 L726.8,755.7 L728.3,754.4 L729.7,753.1 L731.2,751.8 L732.6,750.6 L734.1,749.3 L735.5,748.0 L737.0,746.7 L738.4,745.4 L739.9,744.2 L741.3,742.9 L742.8,741.6 L744.2,740.3 L745.7,739.1 L747.2,737.8 L748.6,736.5 L750.1,735.2 L751.5,734.0 L753.0,732.7 L754.5,731.4 L755.9,730.1 L757.4,728.9 L758.9,727.6 L760.3,726.3 L761.8,725.1 L763.2,723.8 L764.7,722.5 L766.2,721.3 L767.6,720.0 L769.1,718.7 L770.6,717.5 L772.1,716.2 L773.5,715.0 L775.0,713.7 L776.5,712.4 L777.9,711.2 L779.4,709.9 L780.9,708.7 L782.4,707.4 L783.8,706.2 L785.3,704.9 L786.8,703.6 L788.2,702.4 L789.7,701.1 L791.2,699.9 L792.7,698.6 L794.2,697.4 L795.6,696.1 L797.1,694.9 L798.6,693.6 L800.1,692.4 L801.5,691.1 L803.0,689.9 L804.5,688.6 L806.0,687.4 L807.5,686.1 L808.9,684.9 L810.4,683.6 L811.9,682.4 L813.4,681.2 L814.9,679.9 L816.4,678.7 L817.9,677.4 L819.3,676.2 L820.8,675.0 L822.3,673.7 L823.8,672.5 L825.3,671.2 L826.8,670.0 L828.3,668.8 L829.7,667.5 L831.2,666.3 L832.7,665.1 L834.2,663.8 L835.7,662.6 L837.2,661.3 L838.7,660.1 L840.2,658.9 L841.7,657.7 L843.2,656.4 L844.7,655.2 L846.2,654.0 L847.6,652.7 L849.1,651.5 L850.6,650.3 L852.1,649.0 L853.6,647.8 L855.1,646.6 L856.6,645.4 L858.1,644.1 L859.6,642.9 L861.1,641.7 L862.6,640.5 L864.1,639.2 L865.6,638.0 L867.1,636.8 L868.6,635.6 L870.1,634.4 L871.6,633.1 L873.1,631.9 L874.6,630.7 L876.1,629.5 L877.6,628.3 L879.1,627.0 L880.6,625.8 L882.1,624.6 L883.6,623.4 L885.1,622.2 L886.6,621.0 L888.2,619.7 L889.7,618.5 L891.2,617.3 L892.7,616.1 L894.2,614.9 L895.7,613.7 L897.2,612.5 L898.7,611.2 L900.2,610.0 L901.7,608.8 L903.2,607.6 L904.7,606.4 L906.3,605.2 L907.8,604.0 L909.3,602.8 L910.8,601.6 L912.3,600.4 L913.8,599.2 L915.3,597.9 L916.8,596.7 L918.4,595.5 L919.9,594.3 L921.4,593.1 L922.9,591.9 L924.4,590.7 L925.9,589.5 L927.4,588.3 L929.0,587.1 L930.5,585.9 L932.0,584.7 L933.5,583.5 L935.0,582.3 L936.5,581.1 L938.1,579.9 L939.6,578.7 L941.1,577.5 L942.6,576.3 L944.1,575.1 L945.7,573.9 L947.2,572.7 L948.7,571.5 L950.2,570.3 L951.7,569.1 L953.3,567.9 L954.8,566.7 L956.3,565.5 L957.8,564.3 L959.4,563.1 L960.9,561.9 L962.4,560.7 L963.9,559.6 L965.5,558.4 L967.0,557.2 L968.5,556.0 L970.0,554.8 L971.6,553.6 L973.1,552.4 L974.6,551.2 L976.1,550.0 L977.7,548.8 L979.2,547.6 L980.7,546.4 L982.2,545.3 L983.8,544.1 L985.3,542.9 L986.8,541.7 L988.4,540.5 L989.9,539.3 L991.4,538.1 L992.9,536.9 L994.5,535.7 L996.0,534.6 L997.5,533.4 L999.1,532.2 L1000.6,531.0 L1002.1,529.8 L1003.7,528.6 L1005.2,527.4 L1006.7,526.3 L1008.3,525.1 L1009.8,523.9 L1011.3,522.7 L1012.9,521.5 L1014.4,520.3 L1015.9,519.2 L1017.5,518.0 L1019.0,516.8 L1020.5,515.6 L1022.1,514.4 L1023.6,513.2 L1025.1,512.1 L1026.7,510.9 L1028.2,509.7 L1029.8,508.5 L1031.3,507.3 L1032.8,506.2 L1034.4,505.0 L1035.9,503.8 L1037.5,502.6 L1039.0,501.5 L1040.5,500.3 L1042.1,499.1 L1043.6,497.9 L1045.2,496.8 L1046.7,495.6 L1048.2,494.4 L1049.8,493.2 L1051.3,492.1 L1052.9,490.9 L1054.4,489.7 L1056.0,488.5 L1057.5,487.4 L1059.1,486.2 L1060.6,485.0 L1062.1,483.9 L1063.7,482.7 L1065.2,481.5 L1066.8,480.4 L1068.3,479.2 L1069.9,478.1 L1071.4,476.9 L1073.0,475.7 L1074.6,474.6 L1076.1,473.4 L1077.7,472.3 L1079.2,471.1 L1080.8,469.9 L1082.3,468.8 L1083.9,467.6 L1085.4,466.5 L1087.0,465.3 L1088.6,464.2 L1090.1,463.0 L1091.7,461.9 L1093.2,460.7 L1094.8,459.6 L1096.4,458.5 L1097.9,457.3 L1099.5,456.2 L1101.1,455.0 L1102.6,453.9 L1104.2,452.8 L1105.8,451.6 L1107.3,450.5 L1108.9,449.3 L1110.5,448.2 L1112.1,447.1 L1113.6,446.0 L1115.2,444.8 L1116.8,443.7 L1118.4,442.6 L1119.9,441.5 L1121.5,440.3 L1123.1,439.2 L1124.7,438.1 L1126.2,437.0 L1127.8,435.9 L1129.4,434.7 L1131.0,433.6 L1132.6,432.5 L1134.2,431.4 L1135.8,430.3 L1137.3,429.2 L1138.9,428.1 L1140.5,427.0 L1142.1,425.9 L1143.7,424.8 L1145.3,423.7 L1146.9,422.6 L1148.5,421.5 L1150.1,420.4 L1151.7,419.3 L1153.3,418.2 L1154.9,417.2 L1156.5,416.1 L1158.1,415.0 L1159.7,413.9 L1161.3,412.8 L1162.9,411.8 L1164.5,410.7 L1166.1,409.6 L1167.8,408.5 L1169.4,407.5 L1171.0,406.4 L1172.6,405.3 L1174.2,404.3 L1175.8,403.2 L1177.5,402.2 L1179.1,401.1 L1180.7,400.1 L1182.3,399.0 L1184.0,398.0 L1185.6,396.9 L1187.2,395.9 L1188.8,394.8 L1190.5,393.8 L1192.1,392.7 L1193.7,391.7 L1195.4,390.7 L1197.0,389.6 L1198.7,388.6 L1200.3,387.6 L1201.9,386.6 L1203.6,385.5 L1205.2,384.5 L1206.9,383.5 L1208.5,382.5 L1210.2,381.5 L1211.8,380.5 L1213.5,379.5 L1215.1,378.5 L1216.8,377.5 L1218.4,376.5 L1220.1,375.5 L1221.8,374.5 L1223.4,373.5 L1225.1,372.5 L1226.8,371.5 L1228.4,370.5 L1230.1,369.6 L1231.8,368.6 L1233.4,367.6 L1235.1,366.7 L1236.8,365.7 L1238.5,364.7 L1240.1,363.8 L1241.8,362.8 L1243.5,361.9 L1245.2,360.9 L1246.9,360.0 L1248.6,359.0 L1250.3,358.1 L1252.0,357.1 L1253.6,356.2 L1255.3,355.3 L1257.0,354.3 L1258.7,353.4 L1260.4,352.5 L1262.1,351.6 L1263.8,350.7 L1265.6,349.7 L1267.3,348.8 L1269.0,347.9 L1270.7,347.0 L1272.4,346.1 L1274.1,345.3 L1275.8,344.4 L1277.5,343.5 L1279.3,342.6 L1281.0,341.7 L1282.7,340.8 L1284.4,340.0 L1286.2,339.1 L1287.9,338.3 L1289.6,337.4 L1291.4,336.5 L1293.1,335.7 L1294.8,334.8 L1296.6,334.0 L1298.3,333.2 L1300.1,332.3 L1301.8,331.5 L1303.6,330.7 L1305.3,329.9 L1307.1,329.1 L1308.8,328.2 L1310.6,327.4 L1312.3,326.6 L1314.1,325.8 L1315.9,325.0 L1317.6,324.3 L1319.4,323.5 L1321.2,322.7 L1322.9,321.9 L1324.7,321.1 L1326.5,320.4 L1328.3,319.6 L1330.0,318.9 L1331.8,318.1 L1333.6,317.4 L1335.4,316.6 L1337.2,315.9 L1339.0,315.2 L1340.8,314.4 L1342.6,313.7 L1344.3,313.0 L1346.1,312.3 L1347.9,311.6 L1349.7,310.9 L1351.6,310.2 L1353.4,309.5 L1355.2,308.8 L1357.0,308.1 L1358.8,307.5 L1360.6,306.8 L1362.4,306.1 L1364.2,305.5 L1366.1,304.8 L1367.9,304.2 L1369.7,303.5 L1371.5,302.9 L1373.4,302.3 L1375.2,301.6 L1377.0,301.0 L1378.9,300.4 L1380.7,299.8 L1382.6,299.2 L1384.4,298.6 L1386.3,298.0 L1388.1,297.4 L1390.0,296.8 L1391.8,296.3 L1393.7,295.7 L1395.5,295.1 L1397.4,294.6 L1399.3,294.0 L1401.1,293.5 L1403.0,292.9 L1404.9,292.4 L1406.7,291.9 L1408.6,291.4 L1410.5,290.9 L1412.4,290.3 L1414.2,289.8 L1416.1,289.4 L1418.0,288.9 L1419.9,288.4 L1421.8,287.9 L1423.7,287.4 L1425.6,287.0 L1427.5,286.5 L1429.4,286.1 L1431.3,285.7 L1433.2,285.2 L1435.1,284.8 L1437.0,284.4 L1438.9,284.0 L1440.8,283.6 L1442.7,283.3 L1444.6,282.9 L1446.6,282.6 L1448.5,282.2 L1450.4,281.9 L1452.3,281.6 L1454.2,281.3 L1456.1,281.0 L1458.1,280.8 L1460.0,280.5 L1461.9,280.3 L1463.8,280.1 L1465.7,279.9 L1467.6,279.7 L1469.5,279.5 L1471.5,279.4 L1473.4,279.2 L1475.3,279.1 L1477.2,279.0 L1479.1,279.0 L1481.0,278.9 L1482.9,278.9 L1484.8,278.9 L1486.7,278.9 L1488.6,278.9 L1490.5,279.0 L1492.4,279.1 L1494.3,279.2 L1496.2,279.3 L1498.1,279.5 L1500.0,279.6 L1501.9,279.8 L1503.8,280.1 L1505.7,280.3 L1507.6,280.6 L1509.5,280.9 L1511.3,281.3 L1513.2,281.6 L1515.1,282.0 L1516.9,282.4 L1518.8,282.9 L1520.7,283.4 L1522.5,283.9 L1524.4,284.4 L1526.2,285.0 L1528.1,285.6 L1529.9,286.2 L1531.7,286.9 L1533.6,287.6 L1535.4,288.4 L1537.2,289.1" stroke="#0069e2"/>
<path d="M279.4,1197.8 L280.2,1197.8 L281.0,1197.8 L281.7,1197.8 L282.5,1197.8 L283.2,1197.7 L283.9,1197.7 L284.7,1197.6 L285.4,1197.6 L286.1,1197.5 L286.9,1197.4 L287.6,1197.3 L288.3,1197.2 L289.0,1197.0 L289.7,1196.9 L290.4,1196.8 L291.2,1196.6 L291.9,1196.4 L292.6,1196.3 L293.3,1196.1 L293.9,1195.9 L294.6,1195.7 L295.3,1195.4 L296.0,1195.2 L296.7,1195.0 L297.4,1194.7 L298.1,1194.5 L298.7,1194.2 L299.4,1194.0 L300.1,1193.7 L300.7,1193.4 L301.4,1193.1 L302.1,1192.8 L302.7,1192.5 L303.4,1192.2 L304.0,1191.9 L304.7,1191.6 L305.3,1191.3 L306.0,1190.9 L306.6,1190.6 L307.3,1190.2 L307.9,1189.9 L308.6,1189.5 L309.2,1189.2 L309.9,1188.8 L310.5,1188.4 L311.1,1188.1 L311.8,1187.7 L312.4,1187.3 L313.0,1186.9 L313.7,1186.5 L314.3,1186.1 L314.9,1185.7 L315.6,1185.3 L316.2,1184.9 L316.8,1184.5 L317.4,1184.1 L318.1,1183.7 L318.7,1183.3 L319.3,1182.9 L319.9,1182.5 L320.5,1182.1 L321.2,1181.7 L321.8,1181.2 L322.4,1180.8 L323.0,1180.4 L323.6,1180.0 L324.2,1179.6 L324.9,1179.2 L325.5,1178.8 L326.1,1178.3 L326.7,1177.9 L327.3,1177.5 L327.9,1177.1 L328.6,1176.7 L329.2,1176.3 L329.8,1175.9 L330.4,1175.5 L331.0,1175.1 L331.6,1174.7 L332.3,1174.3 L332.9,1173.9 L333.5,1173.5 L334.1,1173.1 L334.7,1172.7 L335.3,1172.3 L336.0,1171.9 L336.6,1171.6 L337.2,1171.2 L337.8,1170.8 L338.5,1170.5 L339.1,1170.1 L339.7,1169.7 L340.3,1169.4 L341.0,1169.1 L341.6,1168.7 L342.3,1169.1 L343.5,1167.6 L344.7,1166.1 L345.9,1164.5 L347.1,1163.0 L348.3,1161.5 L349.5,1159.9 L350.7,1158.4 L351.9,1156.9 L353.1,1155.3 L354.3,1153.8 L355.5,1152.3 L356.6,1150.8 L357.8,1149.2 L359.0,1147.7 L360.2,1146.2 L361.4,1144.6 L362.6,1143.1 L363.8,1141.6 L365.0,1140.1 L366.2,1138.5 L367.4,1137.0 L368.6,1135.5 L369.8,1134.0 L371.0,1132.4 L372.2,1130.9 L373.4,1129.4 L374.6,1127.9 L375.8,1126.3 L377.0,1124.8 L378.2,1123.3 L379.4,1121.8 L380.6,1120.2 L381.8,1118.7 L383.0,1117.2 L384.2,1115.7 L385.4,1114.1 L386.6,1112.6 L387.8,1111.1 L389.0,1109.6 L390.2,1108.1 L391.4,1106.5 L392.6,1105.0 L393.8,1103.5 L395.0,1102.0 L396.2,1100.5 L397.5,1098.9 L398.7,1097.4 L399.9,1095.9 L401.1,1094.4 L402.3,1092.9 L403.5,1091.4 L404.7,1089.8 L405.9,1088.3 L407.1,1086.8 L408.3,1085.3 L409.5,1083.8 L410.8,1082.3 L412.0,1080.8 L413.2,1079.3 L414.4,1077.8 L415.6,1076.2 L416.8,1074.7 L418.0,1073.2 L419.3,1071.7 L420.5,1070.2 L421.7,1068.7 L422.9,1067.2 L424.1,1065.7 L425.4,1064.2 L426.6,1062.7 L427.8,1061.2 L429.0,1059.7 L430.2,1058.2 L431.5,1056.7 L432.7,1055.2 L433.9,1053.7 L435.1,1052.2 L436.4,1050.7 L437.6,1049.2 L438.8,1047.7 L440.1,1046.2 L441.3,1044.7 L442.5,1043.2 L443.8,1041.7 L445.0,1040.3 L446.2,1038.8 L447.5,1037.3 L448.7,1035.8 L449.9,1034.3 L451.2,1032.8 L452.4,1031.3 L453.7,1029.8 L454.9,1028.4 L456.2,1026.9 L457.4,1025.4 L458.6,1023.9 L459.9,1022.4 L461.1,1021.0 L462.4,1019.5 L463.6,1018.0 L464.9,1016.5 L466.1,1015.1 L467.4,1013.6 L468.6,1012.1 L469.9,1010.6 L471.2,1009.2 L472.4,1007.7 L473.7,1006.2 L474.9,1004.8 L476.2,1003.3 L477.5,1001.8 L478.7,1000.4 L480.0,998.9 L481.3,997.5 L482.5,996.0 L483.8,994.5 L485.1,993.1 L486.3,991.6 L487.6,990.2 L488.9,988.7 L490.2,987.3 L491.5,985.8 L492.7,984.4 L494.0,982.9 L495.3,981.5 L496.6,980.0 L497.9,978.6 L499.2,977.1 L500.4,975.7 L501.7,974.3 L503.0,972.8 L504.3,971.4 L505.6,970.0 L506.9,968.5 L508.2,967.1 L509.5,965.7 L510.8,964.2 L512.1,962.8 L513.4,961.4 L514.7,959.9 L516.0,958.5 L517.3,957.1 L518.6,955.7 L520.0,954.3 L521.3,952.8 L522.6,951.4 L523.9,950.0 L525.2,948.6 L526.5,947.2 L527.9,945.8 L529.2,944.4 L530.5,942.9 L531.8,941.5 L533.2,940.1 L534.5,938.7 L535.8,937.3 L537.2,935.9 L538.5,934.5 L539.8,933.1 L541.2,931.7 L542.5,930.3 L543.9,928.9 L545.2,927.5 L546.5,926.2 L547.9,924.8 L549.2,923.4 L550.6,922.0 L551.9,920.6 L553.3,919.2 L554.6,917.8 L556.0,916.4 L557.3,915.1 L558.7,913.7 L560.1,912.3 L561.4,910.9 L562.8,909.6 L564.1,908.2 L565.5,906.8 L566.9,905.4 L568.2,904.1 L569.6,902.7 L571.0,901.3 L572.3,899.9 L573.7,898.6 L575.1,897.2 L576.5,895.9 L577.8,894.5 L579.2,893.1 L580.6,891.8 L582.0,890.4 L583.3,889.0 L584.7,887.7 L586.1,886.3 L587.5,885.0 L588.9,883.6 L590.2,882.3 L591.6,880.9 L593.0,879.6 L594.4,878.2 L595.8,876.9 L597.2,875.5 L598.6,874.2 L600.0,872.8 L601.4,871.5 L602.7,870.1 L604.1,868.8 L605.5,867.4 L606.9,866.1 L608.3,864.7 L609.7,863.4 L611.1,862.1 L612.5,860.7 L613.9,859.4 L615.3,858.0 L616.7,856.7 L618.1,855.4 L619.5,854.0 L620.9,852.7 L622.3,851.4 L623.8,850.0 L625.2,848.7 L626.6,847.4 L628.0,846.0 L629.4,844.7 L630.8,843.4 L632.2,842.0 L633.6,840.7 L635.0,839.4 L636.4,838.1 L637.9,836.7 L639.3,835.4 L640.7,834.1 L642.1,832.8 L643.5,831.4 L644.9,830.1 L646.4,828.8 L647.8,827.5 L649.2,826.2 L650.6,824.8 L652.0,823.5 L653.4,822.2 L654.9,820.9 L656.3,819.6 L657.7,818.3 L659.1,816.9 L660.5,815.6 L662.0,814.3 L663.4,813.0 L664.8,811.7 L666.2,810.4 L667.7,809.0 L669.1,807.7 L670.5,806.4 L671.9,805.1 L673.4,803.8 L674.8,802.5 L676.2,801.2 L677.6,799.9 L679.1,798.6 L680.5,797.2 L681.9,795.9 L683.4,794.6 L684.8,793.3 L686.2,792.0 L687.6,790.7 L689.1,789.4 L690.5,788.1 L691.9,786.8 L693.4,785.5 L694.8,784.2 L696.2,782.9 L697.6,781.6 L699.1,780.3 L700.5,778.9 L701.9,777.6 L703.4,776.3 L704.8,775.0 L706.2,773.7 L707.7,772.4 L709.1,771.1 L710.5,769.8 L712.0,768.5 L713.4,767.2 L714.8,765.9 L716.2,764.6 L717.7,763.3 L719.1,762.0 L720.5,760.7 L722.0,759.4 L723.4,758.1 L724.9,756.8 L726.3,755.5 L727.7,754.2 L729.2,752.9 L730.6,751.6 L732.0,750.3 L733.5,749.0 L734.9,747.7 L736.3,746.4 L737.8,745.1 L739.2,743.8 L740.6,742.6 L742.1,741.3 L743.5,740.0 L745.0,738.7 L746.4,737.4 L747.8,736.1 L749.3,734.8 L750.7,733.5 L752.2,732.2 L753.6,730.9 L755.0,729.6 L756.5,728.3 L757.9,727.0 L759.4,725.7 L760.8,724.5 L762.2,723.2 L763.7,721.9 L765.1,720.6 L766.6,719.3 L768.0,718.0 L769.5,716.7 L770.9,715.4 L772.3,714.2 L773.8,712.9 L775.2,711.6 L776.7,710.3 L778.1,709.0 L779.6,707.7 L781.0,706.4 L782.5,705.2 L783.9,703.9 L785.4,702.6 L786.8,701.3 L788.3,700.0 L789.7,698.7 L791.2,697.5 L792.6,696.2 L794.1,694.9 L795.5,693.6 L797.0,692.3 L798.4,691.1 L799.9,689.8 L801.3,688.5 L802.8,687.2 L804.2,686.0 L805.7,684.7 L807.1,683.4 L808.6,682.1 L810.0,680.8 L811.5,679.6 L813.0,678.3 L814.4,677.0 L815.9,675.7 L817.3,674.5 L818.8,673.2 L820.2,671.9 L821.7,670.7 L823.2,669.4 L824.6,668.1 L826.1,666.8 L827.5,665.6 L829.0,664.3 L830.5,663.0 L831.9,661.8 L833.4,660.5 L834.8,659.2 L836.3,658.0 L837.8,656.7 L839.2,655.4 L840.7,654.2 L842.2,652.9 L843.6,651.6 L845.1,650.4 L846.6,649.1 L848.0,647.8 L849.5,646.6 L851.0,645.3 L852.4,644.0 L853.9,642.8 L855.4,641.5 L856.9,640.2 L858.3,639.0 L859.8,637.7 L861.3,636.5 L862.7,635.2 L864.2,633.9 L865.7,632.7 L867.2,631.4 L868.6,630.2 L870.1,628.9 L871.6,627.7 L873.1,626.4 L874.5,625.1 L876.0,623.9 L877.5,622.6 L879.0,621.4 L880.5,620.1 L881.9,618.9 L883.4,617.6 L884.9,616.4 L886.4,615.1 L887.9,613.9 L889.4,612.6 L890.8,611.4 L892.3,610.1 L893.8,608.9 L895.3,607.6 L896.8,606.4 L898.3,605.1 L899.8,603.9 L901.2,602.6 L902.7,601.4 L904.2,600.1 L905.7,598.9 L907.2,597.6 L908.7,596.4 L910.2,595.2 L911.7,593.9 L913.2,592.7 L914.7,591.4 L916.2,590.2 L917.7,588.9 L919.1,587.7 L920.6,586.5 L922.1,585.2 L923.6,584.0 L925.1,582.7 L926.6,581.5 L928.1,580.3 L929.6,579.0 L931.1,577.8 L932.6,576.6 L934.1,575.3 L935.6,574.1 L937.1,572.9 L938.6,571.6 L940.1,570.4 L941.6,569.2 L943.1,567.9 L944.6,566.7 L946.1,565.5 L947.7,564.2 L949.2,563.0 L950.7,561.8 L952.2,560.5 L953.7,559.3 L955.2,558.1 L956.7,556.9 L958.2,555.6 L959.7,554.4 L961.2,553.2 L962.7,552.0 L964.2,550.7 L965.7,549.5 L967.3,548.3 L968.8,547.1 L970.3,545.8 L971.8,544.6 L973.3,543.4 L974.8,542.2 L976.3,541.0 L977.8,539.7 L979.4,538.5 L980.9,537.3 L982.4,536.1 L983.9,534.9 L985.4,533.7 L986.9,532.4 L988.4,531.2 L990.0,530.0 L991.5,528.8 L993.0,527.6 L994.5,526.4 L996.0,525.2 L997.6,523.9 L999.1,522.7 L1000.6,521.5 L1002.1,520.3 L1003.6,519.1 L1005.1,517.9 L1006.7,516.7 L1008.2,515.5 L1009.7,514.3 L1011.2,513.1 L1012.8,511.9 L1014.3,510.7 L1015.8,509.5 L1017.3,508.3 L1018.8,507.1 L1020.4,505.9 L1021.9,504.7 L1023.4,503.5 L1024.9,502.3 L1026.5,501.1 L1028.0,499.9 L1029.5,498.7 L1031.0,497.5 L1032.6,496.3 L1034.1,495.1 L1035.6,493.9 L1037.1,492.7 L1038.7,491.5 L1040.2,490.3 L1041.7,489.1 L1043.2,487.9 L1044.8,486.7 L1046.3,485.5 L1047.8,484.3 L1049.3,483.2 L1050.9,482.0 L1052.4,480.8 L1053.9,479.6 L1055.4,478.4 L1057.0,477.2 L1058.5,476.0 L1060.0,474.9 L1061.6,473.7 L1063.1,472.5 L1064.6,471.3 L1066.1,470.1 L1067.7,468.9 L1069.2,467.8 L1070.7,466.6 L1072.3,465.4 L1073.8,464.2 L1075.3,463.1 L1076.9,461.9 L1078.4,460.7 L1079.9,459.5 L1081.4,458.4 L1083.0,457.2 L1084.5,456.0 L1086.0,454.8 L1087.6,453.7 L1089.1,452.5 L1090.6,451.3 L1092.2,450.2 L1093.7,449.0 L1095.2,447.8 L1096.7,446.7 L1098.3,445.5 L1099.8,444.3 L1101.3,443.2 L1102.9,442.0 L1104.4,440.8 L1105.9,439.7 L1107.5,438.5 L1109.0,437.3 L1110.5,436.2 L1112.1,435.0 L1113.6,433.9 L1115.1,432.7 L1116.7,431.6 L1118.2,430.4 L1119.7,429.2 L1121.3,428.1 L1122.8,426.9 L1124.3,425.8 L1125.9,424.6 L1127.4,423.5 L1128.9,422.3 L1130.5,421.1 L1132.0,420.0 L1133.5,418.8 L1135.1,417.7 L1136.6,416.5 L1138.2,415.4 L1139.7,414.2 L1141.2,413.0 L1142.8,411.9 L1144.3,410.7 L1145.9,409.6 L1147.4,408.4 L1148.9,407.3 L1150.5,406.1 L1152.0,405.0 L1153.6,403.8 L1155.1,402.6 L1156.7,401.5 L1158.2,400.3 L1159.8,399.2 L1161.3,398.0 L1162.9,396.8 L1164.4,395.7 L1166.0,394.5 L1167.5,393.4 L1169.1,392.2 L1170.7,391.0 L1172.2,389.9 L1173.8,388.7 L1175.3,387.5 L1176.9,386.4 L1178.5,385.2 L1180.0,384.0 L1181.6,382.9 L1183.2,381.7 L1184.7,380.5 L1186.3,379.4 L1187.9,378.2 L1189.5,377.0 L1191.0,375.8 L1192.6,374.7 L1194.2,373.5 L1195.8,372.3 L1197.3,371.1 L1198.9,369.9 L1200.5,368.8 L1202.1,367.6 L1203.7,366.4 L1205.3,365.2 L1206.9,364.0 L1208.5,362.8 L1210.1,361.7 L1211.7,360.5 L1213.3,359.3 L1214.9,358.2 L1216.5,357.0 L1218.1,355.8 L1219.7,354.7 L1221.3,353.5 L1223.0,352.4 L1224.6,351.2 L1226.2,350.1 L1227.8,349.0 L1229.5,347.9 L1231.1,346.8 L1232.8,345.7 L1234.4,344.6 L1236.1,343.5 L1237.7,342.4 L1239.4,341.4 L1241.0,340.4 L1242.7,339.3 L1244.4,338.3 L1246.1,337.3 L1247.8,336.3 L1249.5,335.3 L1251.2,334.4 L1252.9,333.4 L1254.6,332.5 L1256.3,331.6 L1258.0,330.7 L1259.7,329.8 L1261.5,328.9 L1263.2,328.1 L1265.0,327.3 L1266.7,326.5 L1268.5,325.7 L1270.2,324.9 L1272.0,324.2 L1273.8,323.4 L1275.6,322.7 L1277.4,322.0 L1279.2,321.4 L1281.0,320.8 L1282.8,320.1 L1284.7,319.6 L1286.5,319.0 L1288.3,318.5 L1290.2,317.9 L1292.0,317.5 L1293.9,317.0 L1295.8,316.6 L1297.7,316.2 L1299.5,315.8 L1301.4,315.5 L1303.3,315.2 L1305.2,314.9 L1307.1,314.7 L1309.0,314.5 L1310.9,314.3 L1312.8,314.2 L1314.6,314.1 L1316.5,314.0 L1318.4,314.0 L1320.3,314.0 L1322.2,314.1 L1324.0,314.2 L1325.9,314.4 L1327.7,314.6 L1329.6,314.8 L1331.4,315.1 L1333.2,315.4 L1335.1,315.8 L1336.9,316.2 L1338.7,316.7 L1340.4,317.2 L1342.2,317.8 L1344.0,318.4 L1345.7,319.1 L1347.4,319.8 L1349.1,320.6 L1350.8,321.4 L1352.5,322.3 L1354.1,323.2 L1355.8,324.1 L1357.4,325.1 L1359.0,326.1 L1360.6,327.2 L1362.2,328.3 L1363.7,329.4 L1365.2,330.6 L1366.7,331.8 L1368.2,333.1 L1369.7,334.4 L1371.1,335.7 L1372.5,337.0 L1373.9,338.4 L1375.3,339.8 L1376.6,341.3 L1377.9,342.7 L1379.2,344.2 L1380.5,345.8 L1381.7,347.3 L1383.0,348.9 L1384.1,350.5 L1385.3,352.1 L1386.4,353.7 L1387.6,355.4 L1388.6,357.1 L1389.7,358.8 L1390.7,360.5 L1391.7,362.3 L1392.7,364.0 L1393.7,365.8 L1394.6,367.6 L1395.5,369.3 L1396.4,371.1 L1397.3,373.0 L1398.1,374.8 L1398.9,376.6 L1399.7,378.4 L1400.5,380.3 L1401.2,382.1 L1402.0,384.0 L1402.7,385.8 L1403.3,387.7 L1404.0,389.5 L1404.6,391.4 L1405.2,393.3 L1405.8,395.1 L1406.3,397.0 L1406.9,398.8 L1407.4,400.6 L1407.9,402.5 L1408.3,404.3 L1408.8,406.1 L1409.2,407.9 L1409.6,409.7 L1410.0,411.5 L1410.3,413.3 L1410.6,415.0 L1410.9,416.8 L1411.2,418.5" stroke="#00ad66"/>
<path d="M279.4,1200.0 L280.1,1200.0 L280.9,1199.9 L281.6,1199.9 L282.4,1199.9 L283.1,1199.9 L283.9,1199.9 L284.6,1199.9 L285.4,1199.9 L286.2,1199.9 L286.9,1200.0 L287.7,1200.0 L288.5,1200.0 L289.2,1200.0 L290.0,1200.0 L290.8,1200.0 L291.5,1200.0 L292.3,1200.1 L293.1,1200.1 L293.8,1200.1 L294.6,1200.1 L295.4,1200.1 L296.2,1200.1 L296.9,1200.1 L297.7,1200.1 L298.5,1200.1 L299.3,1200.2 L300.0,1200.2 L300.8,1200.2 L301.6,1200.2 L302.4,1200.1 L303.1,1200.1 L303.9,1200.1 L304.7,1200.1 L305.5,1200.1 L306.2,1200.1 L307.0,1200.0 L307.8,1200.0 L308.6,1200.0 L309.3,1199.9 L310.1,1199.9 L310.9,1199.8 L311.6,1199.7 L312.4,1199.7 L313.2,1199.6 L313.9,1199.5 L314.7,1199.4 L315.4,1199.3 L316.2,1199.2 L316.9,1199.1 L317.7,1199.0 L318.4,1198.9 L319.2,1198.7 L319.9,1198.6 L320.7,1198.4 L321.4,1198.3 L322.1,1198.1 L322.9,1197.9 L323.6,1197.7 L324.3,1197.5 L325.1,1197.3 L325.8,1197.1 L326.5,1196.8 L327.2,1196.6 L327.9,1196.3 L328.6,1196.1 L329.3,1195.8 L330.0,1195.5 L330.7,1195.2 L331.4,1194.9 L332.1,1194.5 L332.8,1194.2 L333.4,1193.8 L334.1,1193.4 L334.8,1193.1 L335.4,1192.7 L336.1,1192.2 L336.8,1191.8 L337.4,1191.4 L338.1,1190.9 L338.7,1190.4 L339.3,1189.9 L339.9,1189.4 L340.6,1188.9 L341.1,1189.6 L342.4,1188.3 L343.7,1187.0 L345.0,1185.7 L346.2,1184.3 L347.5,1183.0 L348.8,1181.7 L350.1,1180.4 L351.3,1179.1 L352.6,1177.7 L353.9,1176.4 L355.1,1175.1 L356.4,1173.8 L357.7,1172.4 L358.9,1171.1 L360.2,1169.8 L361.5,1168.5 L362.7,1167.1 L364.0,1165.8 L365.3,1164.5 L366.5,1163.1 L367.8,1161.8 L369.0,1160.5 L370.3,1159.1 L371.6,1157.8 L372.8,1156.5 L374.1,1155.1 L375.3,1153.8 L376.6,1152.4 L377.8,1151.1 L379.1,1149.8 L380.4,1148.4 L381.6,1147.1 L382.9,1145.7 L384.1,1144.4 L385.4,1143.1 L386.6,1141.7 L387.9,1140.4 L389.2,1139.0 L390.4,1137.7 L391.7,1136.3 L392.9,1135.0 L394.2,1133.7 L395.4,1132.3 L396.7,1131.0 L397.9,1129.6 L399.2,1128.3 L400.5,1126.9 L401.7,1125.6 L403.0,1124.3 L404.2,1122.9 L405.5,1121.6 L406.7,1120.2 L408.0,1118.9 L409.3,1117.5 L410.5,1116.2 L411.8,1114.9 L413.0,1113.5 L414.3,1112.2 L415.5,1110.8 L416.8,1109.5 L418.1,1108.2 L419.3,1106.8 L420.6,1105.5 L421.9,1104.2 L423.1,1102.8 L424.4,1101.5 L425.7,1100.2 L426.9,1098.8 L428.2,1097.5 L429.5,1096.2 L430.7,1094.8 L432.0,1093.5 L433.3,1092.2 L434.5,1090.8 L435.8,1089.5 L437.1,1088.2 L438.4,1086.9 L439.7,1085.5 L440.9,1084.2 L442.2,1082.9 L443.5,1081.6 L444.8,1080.3 L446.1,1079.0 L447.3,1077.6 L448.6,1076.3 L449.9,1075.0 L451.2,1073.7 L452.5,1072.4 L453.8,1071.1 L455.1,1069.8 L456.4,1068.5 L457.7,1067.2 L459.0,1065.9 L460.3,1064.6 L461.6,1063.3 L462.9,1062.0 L464.2,1060.7 L465.5,1059.4 L466.8,1058.1 L468.1,1056.9 L469.4,1055.6 L470.7,1054.3 L472.0,1053.0 L473.3,1051.7 L474.7,1050.4 L476.0,1049.2 L477.3,1047.9 L478.6,1046.6 L479.9,1045.3 L481.2,1044.1 L482.6,1042.8 L483.9,1041.5 L485.2,1040.2 L486.5,1039.0 L487.8,1037.7 L489.2,1036.4 L490.5,1035.2 L491.8,1033.9 L493.1,1032.6 L494.5,1031.4 L495.8,1030.1 L497.1,1028.8 L498.5,1027.6 L499.8,1026.3 L501.1,1025.0 L502.4,1023.8 L503.8,1022.5 L505.1,1021.2 L506.4,1020.0 L507.8,1018.7 L509.1,1017.5 L510.4,1016.2 L511.7,1014.9 L513.1,1013.7 L514.4,1012.4 L515.7,1011.1 L517.1,1009.9 L518.4,1008.6 L519.7,1007.4 L521.1,1006.1 L522.4,1004.8 L523.7,1003.6 L525.0,1002.3 L526.4,1001.0 L527.7,999.8 L529.0,998.5 L530.4,997.2 L531.7,996.0 L533.0,994.7 L534.3,993.4 L535.7,992.2 L537.0,990.9 L538.3,989.6 L539.6,988.3 L541.0,987.1 L542.3,985.8 L543.6,984.5 L544.9,983.2 L546.2,982.0 L547.5,980.7 L548.9,979.4 L550.2,978.1 L551.5,976.8 L552.8,975.6 L554.1,974.3 L555.5,973.0 L556.8,971.7 L558.1,970.4 L559.4,969.2 L560.7,967.9 L562.0,966.6 L563.3,965.3 L564.7,964.0 L566.0,962.8 L567.3,961.5 L568.6,960.2 L569.9,958.9 L571.2,957.6 L572.6,956.4 L573.9,955.1 L575.2,953.8 L576.5,952.5 L577.8,951.3 L579.2,950.0 L580.5,948.7 L581.8,947.4 L583.1,946.2 L584.5,944.9 L585.8,943.6 L587.1,942.4 L588.5,941.1 L589.8,939.8 L591.1,938.6 L592.5,937.3 L593.8,936.1 L595.1,934.8 L596.5,933.5 L597.8,932.3 L599.2,931.0 L600.5,929.8 L601.9,928.6 L603.2,927.3 L604.6,926.1 L605.9,924.8 L607.3,923.6 L608.6,922.4 L610.0,921.1 L611.4,919.9 L612.7,918.7 L614.1,917.5 L615.5,916.2 L616.8,915.0 L618.2,913.8 L619.6,912.6 L621.0,911.4 L622.4,910.2 L623.8,909.0 L625.1,907.8 L626.5,906.6 L627.9,905.4 L629.3,904.2 L630.7,903.1 L632.1,901.9 L633.5,900.7 L634.9,899.5 L636.4,898.3 L637.8,897.2 L639.2,896.0 L640.6,894.8 L642.0,893.7 L643.4,892.5 L644.9,891.3 L646.3,890.2 L647.7,889.0 L649.1,887.9 L650.6,886.7 L652.0,885.6 L653.4,884.4 L654.9,883.3 L656.3,882.1 L657.7,881.0 L659.2,879.8 L660.6,878.7 L662.0,877.6 L663.5,876.4 L664.9,875.3 L666.4,874.1 L667.8,873.0 L669.3,871.9 L670.7,870.7 L672.2,869.6 L673.6,868.5 L675.1,867.4 L676.5,866.2 L678.0,865.1 L679.4,864.0 L680.9,862.9 L682.3,861.7 L683.8,860.6 L685.3,859.5 L686.7,858.4 L688.2,857.3 L689.6,856.2 L691.1,855.0 L692.6,853.9 L694.0,852.8 L695.5,851.7 L696.9,850.6 L698.4,849.5 L699.9,848.3 L701.3,847.2 L702.8,846.1 L704.3,845.0 L705.7,843.9 L707.2,842.8 L708.7,841.7 L710.1,840.6 L711.6,839.4 L713.0,838.3 L714.5,837.2 L716.0,836.1 L717.4,835.0 L718.9,833.9 L720.4,832.8 L721.8,831.7 L723.3,830.5 L724.8,829.4 L726.2,828.3 L727.7,827.2 L729.1,826.1 L730.6,825.0 L732.1,823.8 L733.5,822.7 L735.0,821.6 L736.4,820.5 L737.9,819.4 L739.4,818.2 L740.8,817.1 L742.3,816.0 L743.7,814.9 L745.2,813.7 L746.6,812.6 L748.1,811.5 L749.5,810.3 L751.0,809.2 L752.4,808.1 L753.9,806.9 L755.3,805.8 L756.8,804.7 L758.2,803.5 L759.7,802.4 L761.1,801.3 L762.6,800.1 L764.0,799.0 L765.4,797.8 L766.9,796.7 L768.3,795.6 L769.8,794.4 L771.2,793.3 L772.7,792.1 L774.1,791.0 L775.6,789.9 L777.0,788.7 L778.5,787.6 L779.9,786.5 L781.4,785.3 L782.8,784.2 L784.3,783.1 L785.7,781.9 L787.2,780.8 L788.6,779.7 L790.1,778.6 L791.6,777.4 L793.0,776.3 L794.5,775.2 L796.0,774.1 L797.5,773.0 L798.9,771.9 L800.4,770.8 L801.9,769.7 L803.4,768.6 L804.9,767.5 L806.4,766.4 L807.9,765.3 L809.4,764.3 L810.9,763.2 L812.4,762.1 L813.9,761.1 L815.4,760.0 L816.9,758.9 L818.5,757.9 L820.0,756.8 L821.5,755.8 L823.1,754.8 L824.6,753.7 L826.2,752.7 L827.7,751.7 L829.3,750.7 L830.8,749.7 L832.4,748.7 L834.0,747.7 L835.6,746.7 L837.2,745.7 L838.8,744.8 L840.4,743.8 L842.0,742.9 L843.6,741.9 L845.2,741.0 L846.8,740.1 L848.4,739.2 L850.1,738.3 L851.7,737.4 L853.3,736.5 L855.0,735.7 L856.6,734.9 L858.3,734.0 L859.9,733.2 L861.6,732.4 L863.3,731.6 L864.9,730.9 L866.6,730.1 L868.3,729.4 L870.0,728.7 L871.7,728.0 L873.4,727.3 L875.1,726.7 L876.8,726.0 L878.5,725.4 L880.2,724.8 L881.9,724.3 L883.7,723.7 L885.4,723.2 L887.1,722.7 L888.9,722.2 L890.6,721.8 L892.3,721.3 L894.1,720.9 L895.8,720.5 L897.6,720.2 L899.4,719.8 L901.1,719.5 L902.9,719.3 L904.7,719.0 L906.5,718.8 L908.2,718.6 L910.0,718.5 L911.8,718.3 L913.6,718.2 L915.4,718.1 L917.2,718.1 L919.0,718.1 L920.8,718.1 L922.6,718.2 L924.4,718.3 L926.3,718.4 L928.1,718.6 L929.9,718.7 L931.7,719.0 L933.6,719.2 L935.4,719.5 L937.2,719.9 L939.1,720.2 L940.9,720.7 L942.8,721.1 L944.6,721.6 L946.5,722.1 L948.4,722.7 L950.2,723.3 L952.1,723.9 L953.9,724.6 L955.8,725.4 L955.2,725.6 C956.7,726.7 961.1,729.8 964.0,732.0 C966.9,734.2 970.2,736.4 972.7,738.8 C975.2,741.2 977.0,744.1 979.0,746.5 C981.0,748.9 983.0,751.4 984.8,753.2 C986.5,755.0 988.0,755.9 989.5,757.5 C991.0,759.1 992.2,760.6 993.5,762.8 C994.8,765.0 996.2,767.7 997.5,770.5 C998.8,773.3 999.8,776.0 1001.0,779.5 C1002.2,783.0 1003.7,787.8 1005.0,791.5 C1006.3,795.2 1007.6,798.5 1009.0,802.0 C1010.4,805.5 1011.8,809.4 1013.1,812.3 C1014.4,815.2 1015.6,817.2 1017.0,819.5 C1018.4,821.8 1019.6,823.8 1021.2,826.2 C1022.8,828.7 1024.7,831.6 1026.5,834.2 C1028.3,836.8 1030.2,839.9 1032.0,842.0 C1033.8,844.1 1035.4,845.5 1037.0,847.0 C1038.6,848.5 1040.0,849.2 1041.4,851.0 C1042.8,852.8 1044.2,855.5 1045.5,858.0 C1046.8,860.5 1048.2,863.5 1049.5,866.0 C1050.8,868.5 1051.9,870.5 1053.0,872.8 C1054.1,875.1 1055.3,877.8 1056.2,880.0 C1057.1,882.2 1058.0,885.2 1058.4,886.2" stroke="#ff8503"/>
</g>
<path d="M410.7,1201.9V1189.2 M542.0,1201.9V1176.4 M673.3,1201.9V1189.2 M804.6,1201.9V1176.4 M935.9,1201.9V1189.2 M1067.2,1201.9V1176.4 M1198.5,1201.9V1189.2 M1329.8,1201.9V1176.4 M1461.1,1201.9V1189.2 M1592.4,1201.9V1176.4 M1723.7,1201.9V1189.2 M279.4,1095.8H292.1 M279.4,989.7H304.9 M279.4,883.6H292.1 M279.4,777.5H304.9 M279.4,671.4H292.1 M279.4,565.3H304.9 M279.4,459.2H292.1 M279.4,353.1H304.9 M279.4,247.0H292.1 M279.4,140.9H304.9" stroke="#000" stroke-width="5.1" fill="none"/>
<text x="279.4" y="1274.2" font-size="56.5" text-anchor="middle">0.0</text>
<text x="542.0" y="1274.2" font-size="56.5" text-anchor="middle">0.2</text>
<text x="804.6" y="1274.2" font-size="56.5" text-anchor="middle">0.4</text>
<text x="1067.2" y="1274.2" font-size="56.5" text-anchor="middle">0.6</text>
<text x="1329.8" y="1274.2" font-size="56.5" text-anchor="middle">0.8</text>
<text x="1592.4" y="1274.2" font-size="56.5" text-anchor="middle">1.0</text>
<text x="1855.0" y="1274.2" font-size="56.5" text-anchor="middle">1.2</text>
<text x="251" y="1218.7" font-size="57" text-anchor="end">0</text>
<text x="251" y="1006.5" font-size="57" text-anchor="end">2000</text>
<text x="251" y="794.3" font-size="57" text-anchor="end">4000</text>
<text x="251" y="582.1" font-size="57" text-anchor="end">6000</text>
<text x="251" y="369.9" font-size="57" text-anchor="end">8000</text>
<text x="251" y="157.7" font-size="57" text-anchor="end">10000</text>
<text x="1067.5" y="1379.7" font-size="66.5" letter-spacing="1.15" text-anchor="middle">Displacement (mm)</text>
<text transform="translate(79.9,591.5) rotate(-90)" x="0" y="0" font-size="69" text-anchor="middle">Load (N)</text>
<rect x="362.2" y="60.6" width="356.8" height="324.8" fill="none" stroke="#000" stroke-width="2"/>
<line x1="369.2" y1="96.1" x2="482.8" y2="96.1" stroke="#4f4f4f" stroke-width="6.2" stroke-linecap="round"/>
<text x="494.8" y="113.6" font-size="49.6">5mm</text>
<line x1="369.2" y1="159.1" x2="482.8" y2="159.1" stroke="#ff3d40" stroke-width="6.2" stroke-linecap="round"/>
<text x="495.6" y="176.6" font-size="49.6">10mm</text>
<line x1="369.2" y1="223.2" x2="482.8" y2="223.2" stroke="#0069e2" stroke-width="6.2" stroke-linecap="round"/>
<text x="495.6" y="240.7" font-size="49.6">15mm</text>
<line x1="369.2" y1="286.2" x2="482.8" y2="286.2" stroke="#00ad66" stroke-width="6.2" stroke-linecap="round"/>
<text x="494.8" y="303.7" font-size="49.6">20mm</text>
<line x1="369.2" y1="350.3" x2="482.8" y2="350.3" stroke="#ff8503" stroke-width="6.2" stroke-linecap="round"/>
<text x="497.0" y="367.8" font-size="49.6">Untreated</text>
</svg></body></html>
